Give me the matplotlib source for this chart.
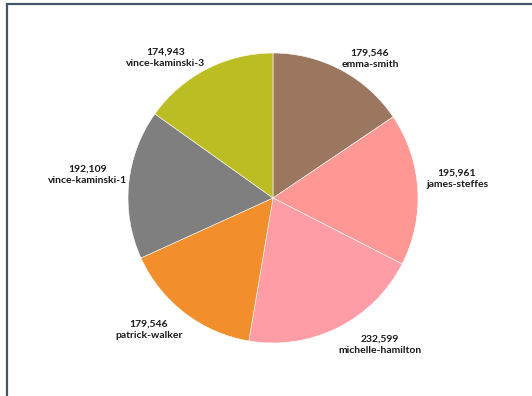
import matplotlib.pyplot as plt
from matplotlib.patches import Rectangle

names = ['emma-smith', 'james-steffes', 'michelle-hamilton',
         'patrick-walker', 'vince-kaminski-1', 'vince-kaminski-3']
values = [179546, 195961, 232599, 179546, 192109, 174943]
colors = ['#9c7760', '#ff9795', '#ff9da7', '#f28e2b', '#7f7f7f', '#bcbd22']

# where the labels sit, in pie-radius units (Excel "best fit")
label_pos = [(0.669, 0.959), (1.269, 0.131), (0.738, -1.014),
             (-0.855, -0.910), (-1.276, 0.159), (-0.738, 0.966)]

plt.rcParams['font.family'] = ['Lato', 'DejaVu Sans']

fig = plt.figure(figsize=(5.32, 3.96), dpi=100)
ax = fig.add_axes([128 / 532, 53 / 396, 290 / 532, 290 / 396])

ax.pie(values, colors=colors, startangle=90, counterclock=False, radius=1,
       wedgeprops={'edgecolor': 'white', 'linewidth': 0.4})
ax.set_xlim(-1, 1)
ax.set_ylim(-1, 1)
ax.set_aspect('equal')
ax.axis('off')

for name, v, (x, y) in zip(names, values, label_pos):
    ax.text(x, y, f'{v:,}\n{name}', ha='center', va='center',
            fontsize=7.5, fontweight='bold', color='#1a1a1a',
            linespacing=1.35, clip_on=False)

# chart frame: only top and left edges are visible in the crop
fig.patches.append(Rectangle((6.5 / 532, -0.05), 1.1, 392 / 396 + 0.05,
                             transform=fig.transFigure, fill=False,
                             edgecolor='#44546a', linewidth=1.6))

fig.savefig('out.png', dpi=100)
